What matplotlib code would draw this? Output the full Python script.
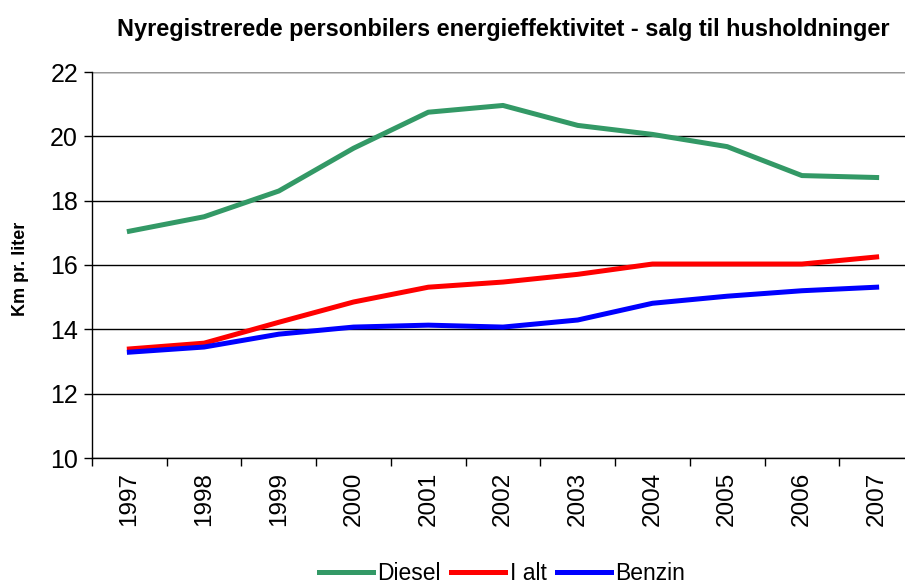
import matplotlib
matplotlib.use('Agg')
import matplotlib.pyplot as plt
import numpy as np

years = ['1997', '1998', '1999', '2000', '2001', '2002', '2003', '2004', '2005', '2006', '2007']
diesel = [17.05, 17.5, 18.3, 19.63, 20.75, 20.96, 20.34, 20.06, 19.68, 18.78, 18.72]
i_alt = [13.39, 13.57, 14.22, 14.85, 15.31, 15.47, 15.71, 16.03, 16.03, 16.03, 16.25]
benzin = [13.29, 13.45, 13.85, 14.07, 14.13, 14.07, 14.29, 14.81, 15.03, 15.2, 15.31]

plt.rcParams['font.family'] = ['Liberation Sans', 'DejaVu Sans']

fig = plt.figure(figsize=(9.05, 5.86), dpi=100)
ax = fig.add_axes([92 / 905, 128 / 586, 822 / 905, 386 / 586])

x = np.arange(len(years))
ax.plot(x, diesel, color='#339966', lw=3.6, label='Diesel')
ax.plot(x, i_alt, color='#FF0000', lw=3.6, label='I alt')
ax.plot(x, benzin, color='#0000FF', lw=3.6, label='Benzin')

ax.set_xlim(-0.5, 10.5)
ax.set_ylim(10, 22)
ax.set_yticks(range(10, 23, 2))
ax.tick_params(axis='y', labelsize=18, direction='out', length=6, width=1, pad=4)
ax.yaxis.grid(True, color='black', lw=1)
ax.set_axisbelow(True)

ax.set_xticks(x)
ax.set_xticklabels(years, rotation=90, fontsize=17.5)
ax.tick_params(axis='x', which='major', length=0, pad=10)
ax.set_xticks(np.arange(-0.5, 11, 1), minor=True)
ax.tick_params(axis='x', which='minor', direction='out', length=6, width=1)

for side in ['top', 'right']:
    ax.spines[side].set_visible(False)
ax.spines['left'].set_linewidth(1)
ax.spines['bottom'].set_linewidth(1)
ax.axhline(22, color='#999999', lw=1.5)

ax.set_ylabel('Km pr. liter', fontsize=13, fontweight='bold')
ax.yaxis.set_label_coords(-0.077, 0.49)
fig.text(0.556, 0.949, 'Nyregistrerede personbilers energieffektivitet - salg til husholdninger',
         ha='center', va='center', fontsize=16.9, fontweight='bold')

fig.legend(loc='center', bbox_to_anchor=(0.555, 0.022), ncol=3, frameon=False, fontsize=16.5,
           handlelength=2.35, handletextpad=0.2, columnspacing=0.45, borderpad=0.1)

fig.savefig('out.png', dpi=100)
